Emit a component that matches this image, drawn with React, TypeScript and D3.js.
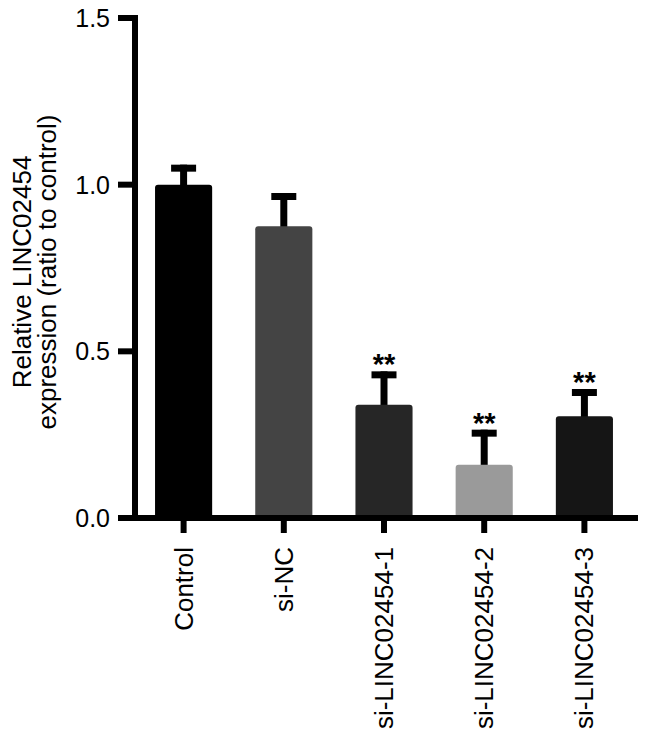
import React from 'react'
import * as d3 from 'd3'

const categories = ['Control', 'si-NC', 'si-LINC02454-1', 'si-LINC02454-2', 'si-LINC02454-3']
const means = [1.0, 0.875, 0.34, 0.16, 0.305]
const errors = [0.06, 0.1, 0.1, 0.105, 0.082]
const stars = ['', '', '**', '**', '**']
const colors = ['#000000', '#444444', '#262626', '#9a9a9a', '#151515']
const yTicks = [0, 0.5, 1.0, 1.5]

const W = 646
const H = 739
const font = 'Liberation Sans, Arial, Helvetica, sans-serif'

export default function App() {
    const x0 = 135
    const x1 = 638
    const y = d3.scaleLinear().domain([0, 1.5]).range([518, 18])
    const x = d3.scaleBand().domain(categories).range([134, 634]).paddingInner(0.43).paddingOuter(0.21)
    const bw = x.bandwidth()

    return (
        <svg width={W} height={H} style={{ position: 'absolute', left: 0, top: 0, background: '#fff' }}>
            {/* bars */}
            {categories.map((c, i) => {
                const bx = x(c)!
                const cx = bx + bw / 2
                const top = y(means[i])
                const errTop = y(means[i] + errors[i])
                return (
                    <g key={c}>
                        <line x1={cx} x2={cx} y1={top + 2} y2={errTop} stroke="#000" strokeWidth={7} />
                        <line x1={cx - 12.5} x2={cx + 12.5} y1={errTop + 3.5} y2={errTop + 3.5} stroke="#000" strokeWidth={7} />
                        <path
                            d={`M${bx},${y(0)} V${top + 3} Q${bx},${top} ${bx + 3},${top} H${bx + bw - 3} Q${bx + bw},${top} ${bx + bw},${top + 3} V${y(0)} Z`}
                            fill={colors[i]}
                        />
                        {stars[i] && (
                            <text x={cx} y={errTop + 3} textAnchor="middle" fontFamily={font} fontWeight="bold" fontSize={29}>
                                {stars[i]}
                            </text>
                        )}
                        <line x1={cx} x2={cx} y1={y(0)} y2={y(0) + 15} stroke="#000" strokeWidth={6} />
                        <text
                            transform={`translate(${cx + 9},${y(0) + 29}) rotate(-90)`}
                            textAnchor="end"
                            fontFamily={font}
                            fontSize={26}
                        >
                            {c}
                        </text>
                    </g>
                )
            })}

            {/* y axis */}
            <line x1={x0} x2={x0} y1={y(1.5) - 3} y2={y(0) + 3} stroke="#000" strokeWidth={6} />
            {yTicks.map((t) => (
                <g key={t}>
                    <line x1={118} x2={x0} y1={y(t)} y2={y(t)} stroke="#000" strokeWidth={6} />
                    <text x={110} y={y(t)} dy="0.36em" textAnchor="end" fontFamily={font} fontSize={25}>
                        {d3.format('.1f')(t)}
                    </text>
                </g>
            ))}
            {/* x axis */}
            <line x1={x0 - 3} x2={x1} y1={y(0)} y2={y(0)} stroke="#000" strokeWidth={6} />

            {/* y label */}
            <text transform="translate(31,272) rotate(-90)" textAnchor="middle" fontFamily={font} fontSize={26}>
                Relative LINC02454
            </text>
            <text transform="translate(56,272) rotate(-90)" textAnchor="middle" fontFamily={font} fontSize={26}>
                expression (ratio to control)
            </text>
        </svg>
    )
}
